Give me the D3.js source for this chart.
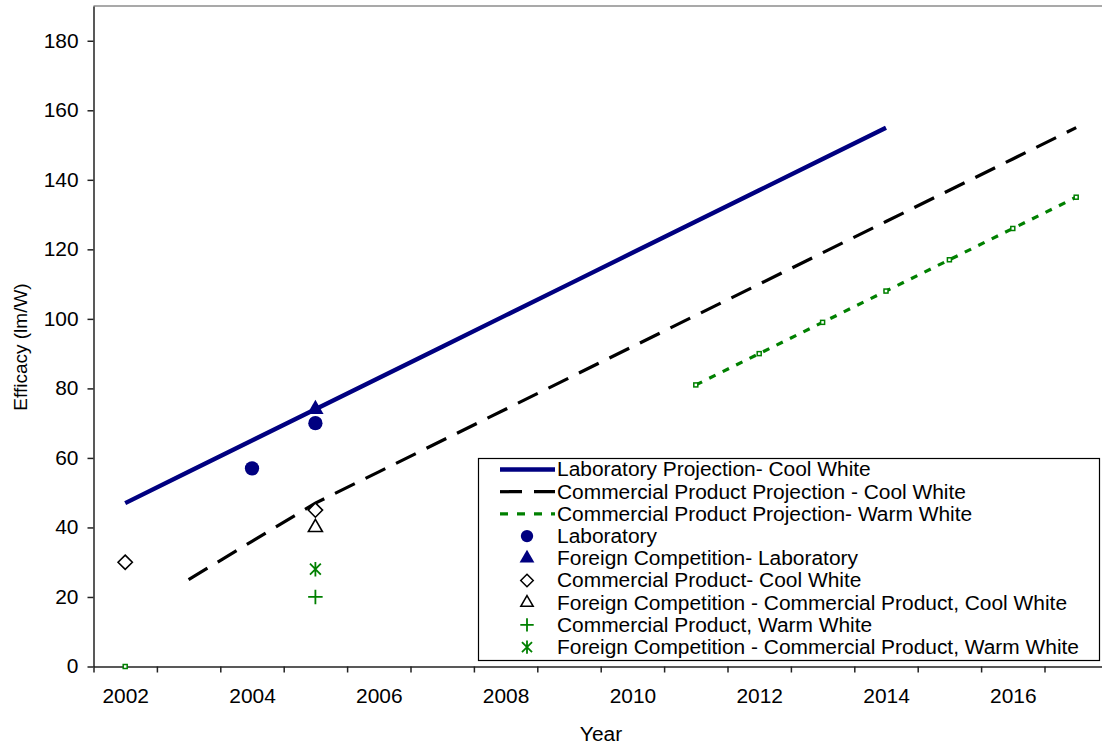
<!DOCTYPE html>
<html>
<head>
<meta charset="utf-8">
<script src="https://cdn.jsdelivr.net/npm/d3@7"></script>
<style>
  html, body { margin: 0; padding: 0; background: #fff; }
  svg { display: block; font-family: Arial, "Liberation Sans", sans-serif; }
</style>
</head>
<body>
<svg id="chart" width="1102" height="746"></svg>
<script>
// Years shown on the category axis
const years = [2002, 2003, 2004, 2005, 2006, 2007, 2008, 2009, 2010, 2011, 2012, 2013, 2014, 2015, 2016, 2017];
const yearLabels = ["2002", "2004", "2006", "2008", "2010", "2012", "2014", "2016"];
const yTicks = [0, 20, 40, 60, 80, 100, 120, 140, 160, 180];

// Projection lines (lm/W)
const labProjYears = [2002, 2003, 2004, 2005, 2006, 2007, 2008, 2009, 2010, 2011, 2012, 2013, 2014];
const labProjValues = [47, 56, 65, 74, 83, 92, 101, 110, 119, 128, 137, 146, 155];

const commCoolYears = [2003, 2004, 2005, 2006, 2007, 2008, 2009, 2010, 2011, 2012, 2013, 2014, 2015, 2016, 2017];
const commCoolValues = [25, 36, 47, 56, 65, 74, 83, 92, 101, 110, 119, 128, 137, 146, 155];

const commWarmYears = [2011, 2012, 2013, 2014, 2015, 2016, 2017];
const commWarmValues = [81, 90, 99, 108, 117, 126, 135];
const commWarmStartYear = [2002];
const commWarmStartValue = [0];

// Measured points
const labYears = [2004, 2005];
const labValues = [57, 70];
const foreignLabYears = [2005];
const foreignLabValues = [74];
const commCoolPtYears = [2002, 2005];
const commCoolPtValues = [30, 45];
const foreignCommCoolYears = [2005];
const foreignCommCoolValues = [40];
const commWarmPtYears = [2005];
const commWarmPtValues = [20];
const foreignCommWarmYears = [2005];
const foreignCommWarmValues = [28];

const legendLabels = [
  "Laboratory Projection- Cool White",
  "Commercial Product Projection - Cool White",
  "Commercial Product Projection- Warm White",
  "Laboratory",
  "Foreign Competition- Laboratory",
  "Commercial Product- Cool White",
  "Foreign Competition - Commercial Product, Cool White",
  "Commercial Product, Warm White",
  "Foreign Competition - Commercial Product, Warm White"
];

const NAVY = "#000080";
const GREEN = "#008000";
const FONT = "Arial, 'Liberation Sans', sans-serif";
const FS = 19.5;
const WIDEN = 1.072;   // slightly wide lettering

const svg = d3.select("#chart");

const plotLeft = 93.5, plotTop = 6, plotBottom = 666.5;
const step = 63.4;
const x = d3.scaleLinear().domain([2001.5, 2017.5]).range([plotLeft, plotLeft + 16 * step]);
const y = d3.scaleLinear().domain([0, 190]).range([plotBottom, plotTop]);

// Stretch text horizontally by a fixed factor
function widen(sel) {
  sel.each(function () {
    const w = this.getComputedTextLength();
    d3.select(this).attr("textLength", w * WIDEN).attr("lengthAdjust", "spacingAndGlyphs");
  });
}

// Star marker: vertical stroke with a diagonal cross
const symbolStar = {
  draw(ctx, size) {
    const r = Math.sqrt(size) / 2;
    ctx.moveTo(0, -r); ctx.lineTo(0, r);
    ctx.moveTo(-r * 0.75, -r * 0.75); ctx.lineTo(r * 0.75, r * 0.75);
    ctx.moveTo(-r * 0.75, r * 0.75); ctx.lineTo(r * 0.75, -r * 0.75);
  }
};
const symbolPlusLine = {
  draw(ctx, size) {
    const r = Math.sqrt(size) / 2;
    ctx.moveTo(0, -r); ctx.lineTo(0, r);
    ctx.moveTo(-r, 0); ctx.lineTo(r, 0);
  }
};

// Plot frame top edge
svg.append("line")
  .attr("x1", plotLeft).attr("x2", x(2017.5))
  .attr("y1", y(190)).attr("y2", y(190))
  .attr("stroke", "#8c8c8c").attr("stroke-width", 1.5);

// Y axis
const yAxis = svg.append("g")
  .attr("transform", `translate(${plotLeft},0)`)
  .call(d3.axisLeft(y).tickValues(yTicks).tickSize(6).tickSizeOuter(0).tickPadding(9));
yAxis.select(".domain").attr("stroke", "#222").attr("stroke-width", 1.5);
yAxis.selectAll(".tick line").attr("stroke", "#222").attr("stroke-width", 1.5);
yAxis.selectAll("text").attr("font-size", FS).attr("fill", "#000").attr("font-family", FONT).call(widen);

// X axis: tick marks between categories
const boundaries = years.map(d => d - 0.5).concat([2017.5]);
const xAxis = svg.append("g")
  .attr("transform", `translate(0,${plotBottom})`)
  .call(d3.axisBottom(x).tickValues(boundaries).tickFormat("").tickSize(6).tickSizeOuter(0));
xAxis.select(".domain").attr("stroke", "#222").attr("stroke-width", 1.5);
xAxis.selectAll(".tick line").attr("stroke", "#222").attr("stroke-width", 1.5);

// X axis labels at category centres
const xLabels = svg.append("g")
  .attr("transform", `translate(0,${plotBottom})`)
  .call(d3.axisBottom(x).tickValues(yearLabels.map(Number)).tickFormat(d3.format("d")).tickSize(0).tickPadding(22.5));
xLabels.select(".domain").remove();
xLabels.selectAll("text").attr("font-size", FS).attr("fill", "#000").attr("font-family", FONT).call(widen);

// Axis titles
svg.append("text")
  .attr("transform", `translate(27,347) rotate(-90)`)
  .attr("text-anchor", "middle")
  .attr("font-size", 19)
  .text("Efficacy (lm/W)");
svg.append("text")
  .attr("x", 601).attr("y", 740.5)
  .attr("text-anchor", "middle")
  .attr("font-size", FS)
  .text("Year")
  .call(widen);

// Projection lines
const line = d3.line().x(d => x(d[0])).y(d => y(d[1]));
const zip = (a, b) => a.map((d, i) => [d, b[i]]);

svg.append("path")
  .datum(zip(commWarmYears, commWarmValues))
  .attr("d", line).attr("fill", "none")
  .attr("stroke", GREEN).attr("stroke-width", 3.2)
  .attr("stroke-dasharray", "7,8");

svg.append("path")
  .datum(zip(commCoolYears, commCoolValues))
  .attr("d", line).attr("fill", "none")
  .attr("stroke", "#000").attr("stroke-width", 3.2)
  .attr("stroke-dasharray", "22,12");

svg.append("path")
  .datum(zip(labProjYears, labProjValues))
  .attr("d", line).attr("fill", "none")
  .attr("stroke", NAVY).attr("stroke-width", 4.4);

// Small square markers on the warm-white projection
const warmMarkers = zip(commWarmYears, commWarmValues).concat(zip(commWarmStartYear, commWarmStartValue));
svg.append("g").selectAll("rect")
  .data(warmMarkers).join("rect")
  .attr("x", d => x(d[0]) - 2).attr("y", d => y(d[1]) - 2)
  .attr("width", 4).attr("height", 4)
  .attr("fill", "#fff").attr("stroke", GREEN).attr("stroke-width", 1.5);

// Measured point series
function drawPoints(yrs, vals, type, size, fill, stroke, sw) {
  svg.append("g").selectAll("path")
    .data(zip(yrs, vals)).join("path")
    .attr("transform", d => `translate(${x(d[0])},${y(d[1])})`)
    .attr("d", d3.symbol().type(type).size(size))
    .attr("fill", fill).attr("stroke", stroke).attr("stroke-width", sw);
}
drawPoints(commCoolPtYears, commCoolPtValues, d3.symbolDiamond2, 130, "#fff", "#000", 1.6);
drawPoints(foreignCommCoolYears, foreignCommCoolValues, d3.symbolTriangle2, 140, "#fff", "#000", 1.6);
drawPoints(commWarmPtYears, commWarmPtValues, symbolPlusLine, 210, "none", GREEN, 1.8);
drawPoints(foreignCommWarmYears, foreignCommWarmValues, symbolStar, 210, "none", GREEN, 1.8);
drawPoints(foreignLabYears, foreignLabValues, d3.symbolTriangle, 115, NAVY, "none", 0);
drawPoints(labYears, labValues, d3.symbolCircle, 160, NAVY, "none", 0);

// Legend
const lg = svg.append("g");
lg.append("rect")
  .attr("x", 478.5).attr("y", 458.5).attr("width", 621).attr("height", 202)
  .attr("fill", "#fff").attr("stroke", "#000").attr("stroke-width", 1.2);

const rowY = i => 469.5 + i * 22.2;
const lx0 = 500, lx1 = 555, lmid = 527, ltx = 557;

const lineStyles = [
  { stroke: NAVY, width: 4.4, dash: null },
  { stroke: "#000", width: 3.2, dash: "22,12" },
  { stroke: GREEN, width: 3.2, dash: "8,9" }
];
lineStyles.forEach((s, i) => {
  lg.append("line")
    .attr("x1", lx0).attr("x2", lx1).attr("y1", rowY(i)).attr("y2", rowY(i))
    .attr("stroke", s.stroke).attr("stroke-width", s.width)
    .attr("stroke-dasharray", s.dash);
});

const legendSymbols = [
  { type: d3.symbolCircle, size: 120, fill: NAVY, stroke: "none", sw: 0 },
  { type: d3.symbolTriangle, size: 95, fill: NAVY, stroke: "none", sw: 0 },
  { type: d3.symbolDiamond2, size: 100, fill: "#fff", stroke: "#000", sw: 1.5 },
  { type: d3.symbolTriangle2, size: 110, fill: "#fff", stroke: "#000", sw: 1.5 },
  { type: symbolPlusLine, size: 180, fill: "none", stroke: GREEN, sw: 1.8 },
  { type: symbolStar, size: 180, fill: "none", stroke: GREEN, sw: 1.8 }
];
legendSymbols.forEach((s, j) => {
  lg.append("path")
    .attr("transform", `translate(${lmid},${rowY(j + 3)})`)
    .attr("d", d3.symbol().type(s.type).size(s.size))
    .attr("fill", s.fill).attr("stroke", s.stroke).attr("stroke-width", s.sw);
});

lg.selectAll("text.lbl")
  .data(legendLabels).join("text")
  .attr("class", "lbl")
  .attr("x", ltx).attr("y", (d, i) => rowY(i))
  .attr("dy", "0.35em")
  .attr("font-size", FS)
  .text(d => d)
  .call(widen);
</script>
</body>
</html>
